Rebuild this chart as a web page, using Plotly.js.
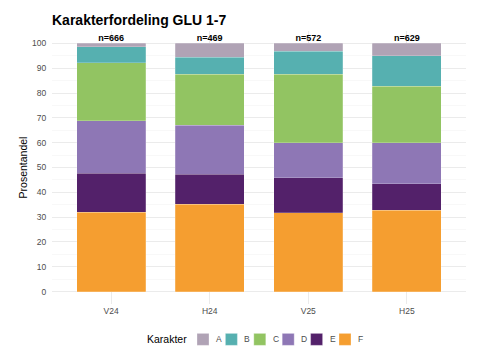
<!DOCTYPE html>
<html><head><meta charset="utf-8">
<script src="https://cdn.plot.ly/plotly-3.0.1.min.js"></script>
<style>body{margin:0;background:#fff}#c{width:480px;height:360px}</style>
</head><body><div id="c"></div>
<script>
const categories = ['V24','H24','V25','H25'];
const counts = ['n=666','n=469','n=572','n=629'];
const grades = ['F','E','D','C','B','A'];
const legendOrder = ['A','B','C','D','E','F'];
const gradeF = [32.0, 35.2, 31.7, 32.8];
const gradeE = [15.7, 12.1, 14.1, 10.7];
const gradeD = [21.1, 19.8, 14.2, 16.5];
const gradeC = [23.4, 20.4, 27.5, 22.7];
const gradeB = [6.5, 7.0, 9.3, 12.3];
const gradeA = [1.3, 5.5, 3.2, 5.0];
const colors = {F:'#F59E30',E:'#53216A',D:'#8E77B5',C:'#92C462',B:'#56B0B0',A:'#B0A3B5'};
const values = {F:gradeF,E:gradeE,D:gradeD,C:gradeC,B:gradeB,A:gradeA};

const W=480, H=360, L=52, R=14, T=30.5, B=55.5;
const pw = W-L-R, ph = H-T-B;
const px2x = p => (p-L)/pw;
const py2y = p => (H-B-p)/ph;

const traces = grades.map(g => ({
  type:'bar', name:g, x:categories, y:values[g], width:0.7,
  marker:{color:colors[g], line:{color:'rgba(255,255,255,0.35)', width:0.6}},
  showlegend:false
}));
traces.push({
  type:'scatter', mode:'text', x:categories, y:categories.map(()=>100),
  text:counts, textposition:'top center', showlegend:false,
  textfont:{family:'Liberation Sans, Arial', size:9, color:'#000', weight:'bold'},
  cliponaxis:false
});

// custom legend (ggplot-style compact keys)
const shapes = [], annotations = [];
const legY = 340, keyX0 = 197, keyStep = 28.4, keySize = 12;
annotations.push({xref:'paper', yref:'paper', x:px2x(189), y:py2y(legY), xanchor:'right', yanchor:'middle',
  text:'Karakter', showarrow:false, font:{size:10.5, color:'#000'}});
legendOrder.forEach((g,i) => {
  const x0 = keyX0 + i*keyStep;
  shapes.push({type:'rect', xref:'paper', yref:'paper', x0:px2x(x0), x1:px2x(x0+keySize),
    y0:py2y(legY+keySize/2), y1:py2y(legY-keySize/2), fillcolor:colors[g],
    line:{color:'rgba(255,255,255,0.5)', width:0.6}});
  annotations.push({xref:'paper', yref:'paper', x:px2x(x0+keySize+5), y:py2y(legY), xanchor:'left', yanchor:'middle',
    text:g, showarrow:false, font:{size:8.5, color:'#4D4D4D'}});
});

const layout = {
  width:W, height:H,
  margin:{l:L, r:R, t:T, b:B},
  paper_bgcolor:'#fff', plot_bgcolor:'#fff',
  font:{family:'Liberation Sans, Arial, sans-serif', color:'#333'},
  barmode:'stack', showlegend:false,
  title:{text:'<b>Karakterfordeling GLU 1-7</b>', xref:'paper', x:0, xanchor:'left', yref:'container', y:0.945, yanchor:'middle', font:{size:14, color:'#000'}},
  xaxis:{range:[-0.6,3.6], showgrid:true, gridcolor:'#EBEBEB', gridwidth:1, zeroline:false, automargin:false,
    tickfont:{size:8.5, color:'#4D4D4D'}, ticks:'', ticklen:0},
  yaxis:{range:[-5,105], tickvals:[0,10,20,30,40,50,60,70,80,90,100], showgrid:true, gridcolor:'#EBEBEB', gridwidth:1,
    minor:{dtick:5, tick0:0, showgrid:true, gridcolor:'#F4F4F4', gridwidth:0.6},
    zeroline:false, automargin:false, tickfont:{size:8.5, color:'#4D4D4D'}, ticks:'outside', ticklen:3, tickcolor:'rgba(0,0,0,0)',
    title:{text:'Prosentandel', font:{size:10.5, color:'#000'}, standoff:2}},
  shapes, annotations
};
Plotly.newPlot('c', traces, layout, {displayModeBar:false, staticPlot:true});
</script></body></html>
